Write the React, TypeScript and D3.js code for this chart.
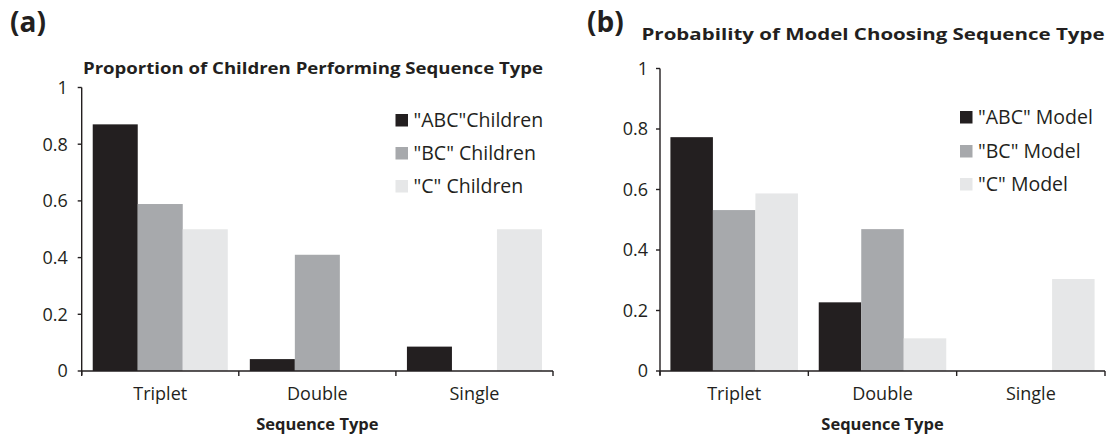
import React from "react";
import * as d3 from "d3";

const categories = ["Triplet", "Double", "Single"];
const yTicks = [0, 0.2, 0.4, 0.6, 0.8, 1];

const childrenSeries = ['"ABC"Children', '"BC" Children', '"C" Children'];
const childrenABC = [0.87, 0.042, 0.086];
const childrenBC = [0.589, 0.41, 0];
const childrenC = [0.5, 0, 0.5];

const modelSeries = ['"ABC" Model', '"BC" Model', '"C" Model'];
const modelABC = [0.773, 0.227, 0];
const modelBC = [0.532, 0.469, 0];
const modelC = [0.587, 0.108, 0.304];

const seriesColors = ["#231f20", "#a7a9ac", "#e6e7e8"];
const FONT = "'Open Sans', 'Noto Sans', sans-serif";
const AXIS = "#231f20";

type PanelProps = {
  letter: string;
  title: string;
  seriesNames: string[];
  values: number[][];
  x0: number;
  x1: number;
  yTop: number;
  yBottom: number;
  labelGap: number;
  legendX: number;
  legendY: number[];
  titleX: number;
  titleY: number;
  titleLen: number;
  letterX: number;
};

function Panel(p: PanelProps) {
  const x = d3.scaleBand<string>().domain(categories).range([p.x0, p.x1]).paddingInner(0).paddingOuter(0);
  const inner = d3
    .scaleBand<string>()
    .domain(p.seriesNames)
    .range([0, x.bandwidth()])
    .paddingInner(0)
    .paddingOuter(0.245);
  const y = d3.scaleLinear().domain([0, 1]).range([p.yBottom, p.yTop]);
  const fmt = (v: number) => (v === 0 ? "0" : v === 1 ? "1" : d3.format(".1f")(v));
  const boundaries = [...categories.map((c) => x(c) as number), p.x1];
  return (
    <g>
      <text x={p.letterX} y={32} fontFamily={FONT} fontWeight="bold" fontSize={28} fill="#231f20">
        {p.letter}
      </text>
      <text
        x={p.titleX}
        y={p.titleY}
        fontFamily={FONT}
        fontWeight="bold"
        fontSize={16.5}
        textAnchor="middle"
        fill="#231f20"
        textLength={p.titleLen}
        lengthAdjust="spacingAndGlyphs"
      >
        {p.title}
      </text>
      {p.values.map((vals, si) =>
        categories.map((c, ci) => {
          const v = vals[ci];
          if (v <= 0) return null;
          return (
            <rect
              key={`${si}-${ci}`}
              x={(x(c) as number) + (inner(p.seriesNames[si]) as number)}
              y={y(v)}
              width={inner.bandwidth()}
              height={y(0) - y(v)}
              fill={seriesColors[si]}
            />
          );
        })
      )}
      {/* y axis */}
      <line x1={p.x0} x2={p.x0} y1={y(1)} y2={y(0) + 4} stroke={AXIS} strokeWidth={1.4} />
      {yTicks.map((t) => (
        <g key={t}>
          <line x1={p.x0 - 4} x2={p.x0} y1={y(t)} y2={y(t)} stroke={AXIS} strokeWidth={1.4} />
          <text
            x={p.x0 - p.labelGap}
            y={y(t)}
            dy="0.36em"
            textAnchor="end"
            fontFamily={FONT}
            fontSize={18}
            fill="#231f20"
          >
            {fmt(t)}
          </text>
        </g>
      ))}
      {/* x axis */}
      <line x1={p.x0} x2={p.x1} y1={y(0)} y2={y(0)} stroke={AXIS} strokeWidth={1.4} />
      {boundaries.map((b, i) => (
        <line key={i} x1={b} x2={b} y1={y(0)} y2={y(0) + 5} stroke={AXIS} strokeWidth={1.4} />
      ))}
      {categories.map((c) => (
        <text
          key={c}
          x={(x(c) as number) + x.bandwidth() / 2}
          y={400}
          textAnchor="middle"
          fontFamily={FONT}
          fontSize={18}
          fill="#231f20"
        >
          {c}
        </text>
      ))}
      <text
        x={(p.x0 + p.x1) / 2}
        y={430}
        textAnchor="middle"
        fontFamily={FONT}
        fontWeight="bold"
        fontSize={16.5}
        fill="#231f20"
      >
        Sequence Type
      </text>
      {/* legend */}
      {p.seriesNames.map((s, i) => (
        <g key={s}>
          <rect x={p.legendX} y={p.legendY[i] - 6} width={12.5} height={12.5} fill={seriesColors[i]} />
          <text
            x={p.legendX + 18}
            y={p.legendY[i]}
            dy="0.36em"
            fontFamily={FONT}
            fontSize={19.5}
            fill="#231f20"
          >
            {s}
          </text>
        </g>
      ))}
    </g>
  );
}

export default function App() {
  return (
    <svg
      width={1107}
      height={434}
      style={{ position: "absolute", left: 0, top: 0, background: "#fff" }}
    >
      <rect width={1107} height={434} fill="#fff" />
      <Panel
        letter="(a)"
        title="Proportion of Children Performing Sequence Type"
        seriesNames={childrenSeries}
        values={[childrenABC, childrenBC, childrenC]}
        x0={81.7}
        x1={553}
        yTop={87.5}
        yBottom={371}
        labelGap={14}
        legendX={395.5}
        legendY={[120, 153, 186]}
        titleX={313}
        titleY={74}
        titleLen={460}
        letterX={10}
      />
      <Panel
        letter="(b)"
        title="Probability of Model Choosing Sequence Type"
        seriesNames={modelSeries}
        values={[modelABC, modelBC, modelC]}
        x0={660}
        x1={1105}
        yTop={68.5}
        yBottom={371}
        labelGap={12}
        legendX={960}
        legendY={[117, 151, 184]}
        titleX={873}
        titleY={40}
        titleLen={463}
        letterX={587}
      />
    </svg>
  );
}
